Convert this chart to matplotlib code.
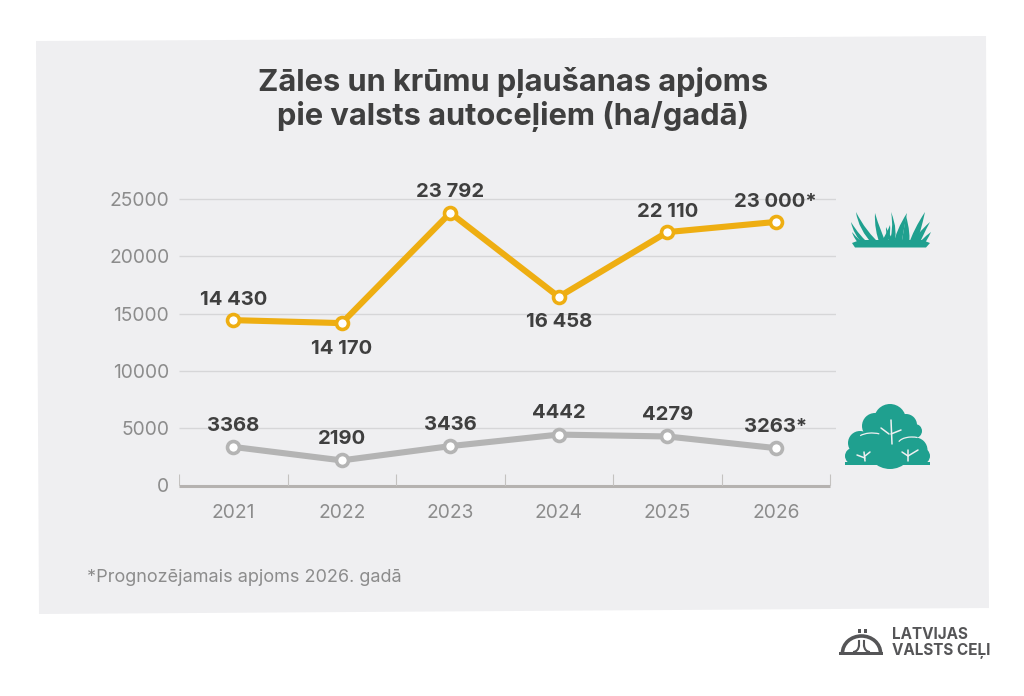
import numpy as np
import matplotlib
matplotlib.use("Agg")
import matplotlib.pyplot as plt
from matplotlib.patches import Polygon, Circle, Arc, Rectangle, PathPatch
from matplotlib.path import Path

plt.rcParams['font.family'] = ['Inter', 'DejaVu Sans']

years = ['2021', '2022', '2023', '2024', '2025', '2026']
grass = [14430, 14170, 23792, 16458, 22110, 23000]
shrubs = [3368, 2190, 3436, 4442, 4279, 3263]
grass_labels = ['14 430', '14 170', '23 792', '16 458', '22 110', '23 000*']
shrub_labels = ['3368', '2190', '3436', '4442', '4279', '3263*']
grass_above = [True, False, True, False, True, True]
yticks = [0, 5000, 10000, 15000, 20000, 25000]
title = 'Zāles un krūmu pļaušanas apjoms\npie valsts autoceļiem (ha/gadā)'
footnote = '*Prognozējamais apjoms 2026. gadā'

PANEL = '#efeff1'
TEAL = '#1fa08f'
W, H = 1024, 696
fig = plt.figure(figsize=(W/100, H/100), dpi=100, facecolor='white')

bg = fig.add_axes([0, 0, 1, 1], zorder=0)
bg.set_xlim(0, W); bg.set_ylim(H, 0); bg.axis('off')
bg.add_patch(Polygon([(36, 41), (986, 36), (989, 608), (39, 614)], closed=True, fc=PANEL, ec='none'))

top_px, bot_px, left_px, right_px = 170, 485.5, 179, 836
ax = fig.add_axes([left_px/W, 1-bot_px/H, (right_px-left_px)/W, (bot_px-top_px)/H], zorder=2)
ax.patch.set_alpha(0)
x = np.arange(len(years))
ax.set_xlim(-0.5, 5.555)
ax.set_ylim(0, 25000*(bot_px-top_px)/286.5)
for s in ax.spines.values():
    s.set_visible(False)
ax.set_yticks(yticks)
ax.set_xticks(x, years)
ax.tick_params(axis='both', length=0, labelcolor='#8c8c8c', labelsize=13.8)
ax.tick_params(axis='y', pad=7)
ax.tick_params(axis='x', pad=13)
ax.hlines(yticks[1:], -0.5, 5.555, color='#d6d6d8', lw=1.0, zorder=1)
ax.hlines(0, -0.5, 5.5, color='#b5b2b0', lw=2.2, zorder=2, clip_on=False)
ax.vlines(x-0.5, 0, 1000, color='#c4c2c0', lw=0.8, zorder=2)
ax.vlines(5.5, 0, 1000, color='#c4c2c0', lw=0.8, zorder=2)

ax.plot(x, grass, color='#eeae12', lw=4.4, marker='o', ms=8.6, mfc='white', mec='#eeae12', mew=2.6, zorder=4, solid_joinstyle='round')
ax.plot(x, shrubs, color='#b4b4b4', lw=4.4, marker='o', ms=8.6, mfc='white', mec='#b4b4b4', mew=2.6, zorder=4, solid_joinstyle='round')

DARK = '#3f3f3f'
for xi, v, t, up in zip(x, grass, grass_labels, grass_above):
    ax.annotate(t, (xi, v), xytext=(0, 14.7 if up else -18.3), textcoords='offset points',
                ha='center', va='center', fontsize=14.6, fontweight='bold', color=DARK, zorder=5)
for xi, v, t in zip(x, shrubs, shrub_labels):
    ax.annotate(t, (xi, v), xytext=(0, 15.2), textcoords='offset points',
                ha='center', va='center', fontsize=14.6, fontweight='bold', color=DARK, zorder=5)

bg.text(513, 99.5, title, ha='center', va='center', fontsize=22.2, fontweight='bold', color='#3f3f3f', linespacing=1.15)
bg.text(87, 577.5, footnote, ha='left', va='center', fontsize=13, color='#8c8c8c')

# grass icon (decoration, pixel coordinates)
def blade(bx, tx, ty, w, by=246, bend=0.0):
    mx = (bx + tx)/2 + bend
    my = (by + ty)/2
    verts = [(bx-w, by), (mx-w*0.7, my), (tx, ty), (mx+w*1.1, my+2), (bx+w, by), (bx-w, by)]
    codes = [Path.MOVETO, Path.CURVE3, Path.CURVE3, Path.CURVE3, Path.CURVE3, Path.CLOSEPOLY]
    bg.add_patch(PathPatch(Path(verts, codes), fc=TEAL, ec='none'))

bg.add_patch(Polygon([(852, 243), (860, 240), (922, 240), (930, 243), (926, 247.5), (855, 247.5)], fc=TEAL, ec='none'))
blade(868, 851, 222, 3.5, bend=-4)
blade(878, 856, 212, 4, bend=-6)
blade(864, 852, 232, 3, bend=-2)
blade(884, 875, 213, 3.5, bend=-3)
blade(882, 890, 225, 3, bend=2)
blade(891, 891, 212, 2.5, bend=5)
blade(897, 907, 213, 4, bend=-3)
blade(905, 906, 216, 4, bend=1)
blade(912, 925, 212, 4, bend=-2)
blade(915, 930, 222, 3.5, bend=-4)
blade(920, 931, 232, 3, bend=-2)
blade(895, 886, 227, 3, bend=-3)

# shrub icon (decoration, pixel coordinates)
for cx, cy, r in [(890, 420, 16), (875, 426, 13), (906, 425, 11), (915, 431, 7), (860, 443, 12), (853, 456, 8),
                  (915, 450, 12.5), (922, 456, 8), (890, 445, 24), (870, 450, 14), (907, 452, 12)]:
    bg.add_patch(Circle((cx, cy), r, fc=TEAL, ec='none'))
bg.add_patch(Rectangle((850, 450), 75, 13, fc=TEAL, ec='none'))
bg.add_patch(Rectangle((845, 462), 85, 3.2, fc=TEAL, ec='none'))
for pts in [[(892, 444), (891, 420)], [(889, 434), (881, 428)], [(891, 434), (901, 430)],
            [(908, 461), (908, 450)], [(908, 456), (902, 452)], [(908, 456), (918, 450)],
            [(865, 461), (864, 452)], [(865, 458), (857, 455)], [(865, 456), (870, 452)]]:
    bg.plot(*zip(*pts), color=PANEL, lw=1.1, solid_capstyle='round')
bg.add_patch(Arc((872, 440), 30, 14, theta1=200, theta2=320, ec=PANEL, lw=0.9))
bg.add_patch(Arc((912, 444), 28, 14, theta1=190, theta2=310, ec=PANEL, lw=0.9))

# logo
LOGO = '#555557'
bg.add_patch(Rectangle((839, 652), 44, 3, fc=LOGO, ec='none'))
bg.add_patch(Arc((861.5, 653), 38, 34, theta1=180, theta2=360, ec=LOGO, lw=2.6))
bg.add_patch(Arc((853, 645), 12, 14, theta1=0, theta2=90, ec=LOGO, lw=1.5))
bg.add_patch(Arc((870, 645), 12, 14, theta1=90, theta2=180, ec=LOGO, lw=1.5))
bg.plot([859, 859], [641, 645], color=LOGO, lw=1.5)
bg.plot([864, 864], [641, 645], color=LOGO, lw=1.5)
bg.add_patch(Rectangle((858, 629), 3.2, 3.5, fc=LOGO, ec='none'))
bg.add_patch(Rectangle((863.5, 629), 3.2, 3.5, fc=LOGO, ec='none'))
bg.text(892, 634.5, 'LATVIJAS', ha='left', va='center', fontsize=11, fontweight='bold', color=LOGO)
bg.text(892, 650.5, 'VALSTS CEĻI', ha='left', va='center', fontsize=11, fontweight='bold', color=LOGO)

fig.savefig('out.png', dpi=100, facecolor='white')
